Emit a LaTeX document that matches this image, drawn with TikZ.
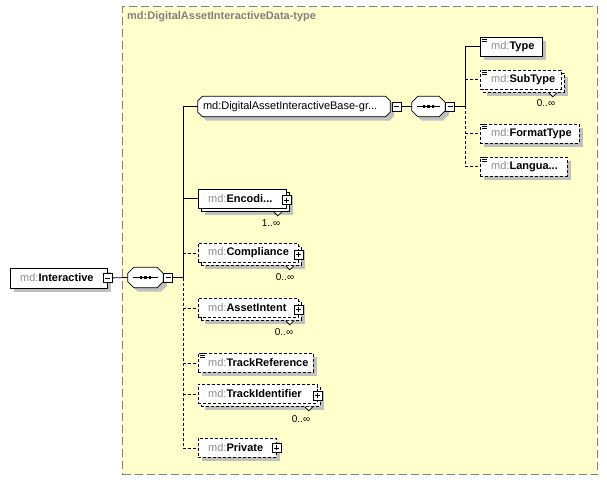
\documentclass[tikz,border=0pt]{standalone}
\usepackage{fontspec}
\setmainfont{Liberation Sans}
\usetikzlibrary{shadows,calc}
\definecolor{bgyellow}{RGB}{255,255,204}
\definecolor{framegray}{RGB}{128,128,128}
\definecolor{mdgray}{RGB}{140,140,140}
\definecolor{shadowgray}{RGB}{192,192,192}
\newcommand{\mdname}[1]{{\color{mdgray}md:}\textbf{#1}}
\newcommand{\simpleicon}[1]{\foreach \k in {0.5,2.5,4.5}{\draw[line width=0.7bp] ($(#1.north west)+(2,\k)$) -- ++(5,0);}}
\newcommand{\notchat}[2]{\draw[line width=0.8bp,fill=white] ($(#1.south east)+(-16,0)$) -- ++(4,#2) -- ++(4,-#2);}
% octagon outline round a (borderless) node: #1 node, #2 chamfer, #3 #4 offset
\newcommand{\octpath}[4]{($(#1.north west)+(#2+#3,#4)$) -- ($(#1.north east)+(-#2+#3,#4)$) -- ($(#1.north east)+(#3,#2+#4)$) -- ($(#1.south east)+(#3,-#2+#4)$) -- ($(#1.south east)+(-#2+#3,#4)$) -- ($(#1.south west)+(#2+#3,#4)$) -- ($(#1.south west)+(#3,-#2+#4)$) -- ($(#1.north west)+(#3,#2+#4)$) -- cycle}
\newcommand{\drawoct}[2]{\fill[shadowgray] \octpath{#1}{#2}{4}{4}; \filldraw[fill=white, draw=black, line width=0.8bp] \octpath{#1}{#2}{0}{0};}
\newcommand{\seqmark}[1]{\draw[line width=0.8bp] ($(#1.west)+(5,0)$) -- ($(#1.east)+(-5,0)$);
  \foreach \d in {-4.5,0,4.5}{\fill ($(#1.center)+(\d-1.4,-1.4)$) rectangle ++(2.8,2.8);}}
\begin{document}
\begin{tikzpicture}[x=1bp,y=-1bp,
  every node/.style={font=\fontsize{11bp}{13bp}\selectfont},
  box/.style={draw, fill=white, line width=0.8bp, inner sep=0, anchor=north west},
  opt/.style={dash pattern=on 3bp off 2bp},
  shd/.style={general shadow={fill=shadowgray, shadow xshift=4bp, shadow yshift=-4bp}},
  lbl/.style={anchor=west, inner sep=0},
  conn/.style={line width=0.8bp},
  octnode/.style={rectangle, draw=none, inner sep=0, minimum height=20bp},
  pmbase/.style={draw, fill=white, line width=0.8bp, minimum size=9bp, inner sep=0},
  pmminus/.style={pmbase, path picture={\draw[line width=0.8bp] ([xshift=2bp]path picture bounding box.west) -- ([xshift=-2bp]path picture bounding box.east);}},
  pmplus/.style={pmbase, path picture={\draw[line width=0.8bp] ([xshift=2bp]path picture bounding box.west) -- ([xshift=-2bp]path picture bounding box.east); \draw[line width=0.8bp] ([yshift=2bp]path picture bounding box.south) -- ([yshift=-2bp]path picture bounding box.north);}},
  mult/.style={inner sep=0, font=\fontsize{10bp}{12bp}\selectfont}
]
\useasboundingbox (0,0) rectangle (607,480);
\fill[white] (0,0) rectangle (607,480);

% container type
\node[draw=framegray, fill=bgyellow, line width=1.2bp, dash pattern=on 8bp off 4bp, minimum width=475bp, minimum height=468bp, anchor=north west, inner sep=0] (ctype) at (122,6) {};
\node[lbl, text=framegray, font=\fontsize{11bp}{13bp}\selectfont\bfseries] (title) at (127,17) {md:DigitalAssetInteractiveData-type};

% root element
\node[box, shd, minimum width=97bp, minimum height=20bp] (inter) at (10,267.5) {};
\node[lbl] (inter-t) at ([xshift=10bp]inter.west) {\mdname{Interactive}};
\node[pmminus] (inter-pm) at (inter.east) {};

% outer sequence
\node[octnode, minimum width=35bp] (seq1) at (145.5,277.5) {};
\drawoct{seq1}{6}
\seqmark{seq1}
\node[pmminus] (seq1-pm) at ([xshift=5bp]seq1.east) {};

% group
\node[octnode, minimum width=192bp] (grp) at (294,106.5) {};
\drawoct{grp}{4.5}
\node[lbl] (grp-t) at ([xshift=5bp]grp.west) {md:DigitalAssetInteractiveBase-gr...};
\node[pmminus] (grp-pm) at ([xshift=6.5bp]grp.east) {};

% inner sequence
\node[octnode, minimum width=33bp] (seq2) at (428.5,106.5) {};
\drawoct{seq2}{6}
\seqmark{seq2}
\node[pmminus] (seq2-pm) at ([xshift=5bp]seq2.east) {};

% group children
\node[box, shd, minimum width=62bp, minimum height=19bp] (type) at (480,37) {};
\node[lbl] (type-t) at ([xshift=11bp]type.west) {\mdname{Type}};
\simpleicon{type}

\node[box, shd, opt, minimum width=81bp, minimum height=19bp] (subtype-b) at (483,73) {};
\node[box, opt, minimum width=81bp, minimum height=19bp] (subtype) at (480,70) {};
\node[lbl] (subtype-t) at ([xshift=11bp]subtype.west) {\mdname{SubType}};
\simpleicon{subtype}
\notchat{subtype-b}{4}
\node[mult] (subtype-m) at (546,103) {0..∞};

\node[box, shd, opt, minimum width=99bp, minimum height=19bp] (format) at (480,124) {};
\node[lbl] (format-t) at ([xshift=11bp]format.west) {\mdname{FormatType}};
\simpleicon{format}

\node[box, shd, opt, minimum width=87bp, minimum height=19bp] (lang) at (480,157) {};
\node[lbl] (lang-t) at ([xshift=11bp]lang.west) {\mdname{Langua...}};
\simpleicon{lang}

% sequence children
\node[box, shd, minimum width=88bp, minimum height=19bp] (enc-b) at (201,192) {};
\node[box, minimum width=88bp, minimum height=19bp] (enc) at (198,189) {};
\node[lbl] (enc-t) at ([xshift=10bp]enc.west) {\mdname{Encodi...}};
\node[pmplus] (enc-pm) at ([yshift=-1.5bp]enc.east) {};
\notchat{enc-b}{4}
\node[mult] (enc-m) at (271,223) {1..∞};

\node[box, shd, opt, minimum width=100bp, minimum height=19bp] (comp-b) at (201,246) {};
\node[box, opt, minimum width=100bp, minimum height=19bp] (comp) at (198,243) {};
\node[lbl] (comp-t) at ([xshift=10bp]comp.west) {\mdname{Compliance}};
\node[pmplus] (comp-pm) at ([yshift=-1.5bp]comp.east) {};
\notchat{comp-b}{4}
\node[mult] (comp-m) at (285,277) {0..∞};

\node[box, shd, opt, minimum width=100bp, minimum height=19bp] (intent-b) at (201,301) {};
\node[box, opt, minimum width=100bp, minimum height=19bp] (intent) at (198,298) {};
\node[lbl] (intent-t) at ([xshift=10bp]intent.west) {\mdname{AssetIntent}};
\node[pmplus] (intent-pm) at ([yshift=-1.5bp]intent.east) {};
\notchat{intent-b}{4}
\node[mult] (intent-m) at (284,332) {0..∞};

\node[box, shd, opt, minimum width=115bp, minimum height=19bp] (tref) at (198,353) {};
\node[lbl] (tref-t) at ([xshift=10bp]tref.west) {\mdname{TrackReference}};
\simpleicon{tref}

\node[box, shd, opt, minimum width=119bp, minimum height=19bp] (tid-b) at (201,387) {};
\node[box, opt, minimum width=119bp, minimum height=19bp] (tid) at (198,384) {};
\node[lbl] (tid-t) at ([xshift=10bp]tid.west) {\mdname{TrackIdentifier}};
\node[pmplus] (tid-pm) at ([yshift=-1.5bp]tid.east) {};
\notchat{tid-b}{4}
\node[mult] (tid-m) at (301,419) {0..∞};

\node[box, shd, opt, minimum width=78bp, minimum height=19bp] (priv) at (198,438) {};
\node[lbl] (priv-t) at ([xshift=10bp]priv.west) {\mdname{Private}};
\node[pmplus] (priv-pm) at (priv.east) {};

% connectors: root to outer sequence
\draw[conn] (inter-pm.east) -- (seq1.west);
\coordinate (bus1) at (183,277.5);
\draw[conn] (seq1-pm.east) -- (bus1);
\draw[conn] (grp.west -| bus1) -- (bus1);
\draw[conn, opt] (bus1) -- (priv.west -| bus1);
\draw[conn] (grp.west -| bus1) -- (grp.west);
\draw[conn] (enc.west -| bus1) -- (enc.west);
\draw[conn, opt] (comp.west -| bus1) -- (comp.west);
\draw[conn, opt] (intent.west -| bus1) -- (intent.west);
\draw[conn, opt] (tref.west -| bus1) -- (tref.west);
\draw[conn, opt] (tid.west -| bus1) -- (tid.west);
\draw[conn, opt] (priv.west -| bus1) -- (priv.west);

% group to inner sequence
\draw[conn] (grp-pm.east) -- (seq2.west);
\coordinate (bus2) at (465,106.5);
\draw[conn] (seq2-pm.east) -- (bus2);
\draw[conn] (type.west -| bus2) -- (bus2);
\draw[conn, opt] (bus2) -- (lang.west -| bus2);
\draw[conn] (type.west -| bus2) -- (type.west);
\draw[conn, opt] (subtype.west -| bus2) -- (subtype.west);
\draw[conn, opt] (format.west -| bus2) -- (format.west);
\draw[conn, opt] (lang.west -| bus2) -- (lang.west);
\end{tikzpicture}
\end{document}
